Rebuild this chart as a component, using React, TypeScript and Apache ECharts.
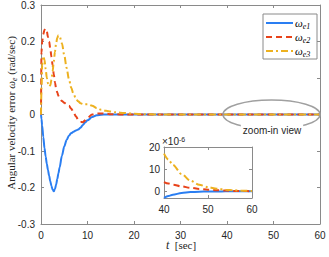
import React, { useEffect, useRef } from "react";
import * as echarts from "echarts";

const tMain = [0, 0.1, 0.25, 0.5, 0.75, 1, 1.25, 1.5, 1.75, 2, 2.25, 2.5, 2.75, 3, 3.25, 3.5, 3.75, 4, 4.5, 5, 5.5, 6, 6.5, 7, 7.5, 8, 8.5, 9, 9.5, 10, 11, 12, 13, 14, 15, 16, 18, 20, 22, 25, 30, 40, 50, 60];
const e1Main = [0, -0.012, -0.03, -0.062, -0.092, -0.115, -0.135, -0.152, -0.168, -0.183, -0.196, -0.206, -0.21, -0.205, -0.192, -0.177, -0.161, -0.145, -0.113, -0.088, -0.07, -0.058, -0.051, -0.047, -0.044, -0.041, -0.036, -0.029, -0.022, -0.016, -0.007, -0.002, -0.0005, 0, 0, 0, 0, 0, 0, 0, 0, 0, 0, 0];
const e2Main = [0, 0.17, 0.2, 0.22, 0.232, 0.235, 0.228, 0.212, 0.2, 0.18, 0.158, 0.135, 0.11, 0.088, 0.072, 0.06, 0.051, 0.045, 0.037, 0.032, 0.028, 0.024, 0.016, 0.006, -0.005, -0.014, -0.02, -0.021, -0.016, -0.009, 0, 0.003, 0.003, 0.002, 0.001, 0.0005, 0, 0, 0, 0, 0, 0, 0, 0];
const e3Main = [0, 0.07, 0.135, 0.16, 0.15, 0.125, 0.1, 0.085, 0.077, 0.08, 0.095, 0.118, 0.145, 0.172, 0.195, 0.21, 0.217, 0.214, 0.195, 0.163, 0.128, 0.097, 0.073, 0.056, 0.044, 0.036, 0.031, 0.029, 0.028, 0.028, 0.024, 0.018, 0.013, 0.01, 0.008, 0.006, 0.004, 0.002, 0.001, 0, 0, 0, 0, 0];

const tInset = [40, 41, 42, 44, 46, 48, 50, 52, 54, 56, 58, 60];
const e1Inset = [-2.9, -2.1, -1.5, -0.75, -0.35, -0.15, -0.07, -0.03, -0.01, 0, 0, 0];
const e2Inset = [4.2, 3.5, 3.0, 2.2, 1.6, 1.1, 0.75, 0.5, 0.33, 0.2, 0.12, 0.08];
const e3Inset = [17, 14.3, 12, 7.8, 4.8, 3.0, 1.9, 1.2, 0.75, 0.45, 0.25, 0.15];

const mainXTicks = { min: 0, max: 60, interval: 10 };
const mainYTicks = { min: -0.3, max: 0.3, interval: 0.1 };
const insetXTicks = { min: 40, max: 60, interval: 10 };
const insetYRange = { min: -3, max: 20 };
const insetYTickValues = [0, 10, 20];

const seriesNames = ["e1", "e2", "e3"];
const colors = ["#2a7ef2", "#e8431a", "#edb120"];
const dashes: any[] = ["solid", [6, 4], [7, 3, 2, 3]];

const AXIS = "#8a8a8a";
const LABEL = "#262626";
const SANS = "Liberation Sans";
const SERIF = "Liberation Serif";

function axisBase(showLabel: boolean, margin: number) {
  return {
    type: "value" as const,
    axisLine: { show: true, onZero: false, lineStyle: { color: AXIS, width: 1 } },
    axisTick: { show: true, inside: true, length: 3, lineStyle: { color: AXIS } },
    splitLine: { show: false },
    axisLabel: { show: showLabel, color: LABEL, fontSize: 10, fontFamily: SANS, margin },
  };
}

export default function App() {
  const ref = useRef<HTMLDivElement>(null);
  useEffect(() => {
    if (!ref.current) return;
    const chart = echarts.init(ref.current, undefined, { renderer: "svg" });
    const mains = [e1Main, e2Main, e3Main];
    const insets = [e1Inset, e2Inset, e3Inset];
    const series: any[] = [];
    mains.forEach((arr, i) => {
      series.push({
        type: "line",
        name: seriesNames[i],
        xAxisIndex: 0,
        yAxisIndex: 0,
        data: tMain.map((t, k) => [t, arr[k]]),
        showSymbol: false,
        symbol: "none",
        smooth: 0.3,
        smoothMonotone: "x",
        z: 2 + i,
        lineStyle: { color: colors[i], width: 2, type: dashes[i] },
      });
    });
    insets.forEach((arr, i) => {
      series.push({
        type: "line",
        name: seriesNames[i] + "_inset",
        xAxisIndex: 2,
        yAxisIndex: 2,
        data: tInset.map((t, k) => [t, arr[k]]),
        showSymbol: false,
        symbol: "none",
        smooth: 0.3,
        smoothMonotone: "x",
        z: 8 + i,
        lineStyle: { color: colors[i], width: 2, type: dashes[i] },
      });
    });

    const omegaRich = {
      w: { fontFamily: SERIF, fontStyle: "italic", fontSize: 11, color: LABEL, lineHeight: 14 },
      s: { fontFamily: SERIF, fontStyle: "italic", fontSize: 8, color: LABEL, lineHeight: 8, verticalAlign: "bottom" },
    };

    const legendYs = [23, 37, 51];
    const legendEls: any[] = [
      {
        type: "rect",
        shape: { x: 263, y: 14, width: 54, height: 45 },
        style: { fill: "#fff", stroke: AXIS, lineWidth: 1 },
        z: 20,
      },
    ];
    legendYs.forEach((y, i) => {
      legendEls.push({
        type: "line",
        shape: { x1: 266, y1: y, x2: 293, y2: y },
        style: { stroke: colors[i], lineWidth: 2, lineDash: i === 0 ? null : dashes[i] },
        z: 21,
      });
      legendEls.push({
        type: "text",
        x: 295,
        y: y,
        style: {
          text: "{w|ω}{s|" + seriesNames[i] + "}",
          rich: omegaRich,
          verticalAlign: "middle",
          align: "left",
        },
        z: 21,
      });
    });

    const option: any = {
      animation: false,
      grid: [
        { left: 41, top: 5, width: 279, height: 219, show: false },
        { left: 164, top: 147, width: 88, height: 51, show: true, backgroundColor: "#fff", borderWidth: 0, z: 5 },
      ],
      xAxis: [
        { ...axisBase(true, 6), gridIndex: 0, position: "bottom", ...mainXTicks },
        { ...axisBase(false, 6), gridIndex: 0, position: "top", ...mainXTicks },
        { ...axisBase(true, 6), gridIndex: 1, position: "bottom", ...insetXTicks, z: 6 },
        { ...axisBase(false, 6), gridIndex: 1, position: "top", ...insetXTicks, z: 6 },
      ],
      yAxis: [
        {
          ...axisBase(true, 6),
          gridIndex: 0,
          position: "left",
          ...mainYTicks,
          axisLabel: {
            ...axisBase(true, 6).axisLabel,
            formatter: (v: number) => String(Number(v.toFixed(1))),
          },
        },
        { ...axisBase(false, 6), gridIndex: 0, position: "right", ...mainYTicks },
        {
          ...axisBase(true, 4),
          gridIndex: 1,
          position: "left",
          ...insetYRange,
          axisTick: { show: true, inside: true, length: 3, lineStyle: { color: AXIS }, customValues: insetYTickValues },
          axisLabel: { show: true, color: LABEL, fontSize: 10, fontFamily: SANS, margin: 4, customValues: insetYTickValues },
          z: 6,
        },
        {
          ...axisBase(false, 4),
          gridIndex: 1,
          position: "right",
          ...insetYRange,
          axisTick: { show: true, inside: true, length: 3, lineStyle: { color: AXIS }, customValues: insetYTickValues },
          z: 6,
        },
      ],
      series,
      graphic: [
        {
          type: "text",
          x: 11,
          y: 113,
          rotation: Math.PI / 2,
          style: {
            text: "Angular velocity error {w|ω}{s|e} (rad/sec)",
            font: "11px " + SERIF,
            fill: LABEL,
            rich: {
              w: { fontFamily: SERIF, fontStyle: "italic", fontSize: 11, color: LABEL, lineHeight: 14 },
              s: { fontFamily: SERIF, fontStyle: "italic", fontSize: 8, color: LABEL, lineHeight: 8, verticalAlign: "bottom" },
            },
            align: "center",
            verticalAlign: "middle",
          },
        },
        {
          type: "text",
          x: 181,
          y: 245,
          style: {
            text: "{i|t}  [sec]",
            font: "11px " + SERIF,
            fill: LABEL,
            rich: { i: { fontFamily: SERIF, fontStyle: "italic", fontSize: 12, color: LABEL } },
            align: "center",
            verticalAlign: "middle",
          },
        },
        {
          type: "text",
          x: 162,
          y: 141,
          style: {
            text: "×10{p|-6}",
            font: "10px " + SANS,
            fill: LABEL,
            rich: { p: { fontFamily: SANS, fontSize: 7, color: LABEL, verticalAlign: "top", lineHeight: 8 } },
            align: "left",
            verticalAlign: "middle",
          },
          z: 10,
        },
        {
          type: "ellipse",
          shape: { cx: 271.5, cy: 114.5, rx: 48.5, ry: 14.5 },
          style: { fill: "none", stroke: "#a0a0a0", lineWidth: 1.5 },
          z: 10,
        },
        {
          type: "text",
          x: 272,
          y: 130,
          style: {
            text: "zoom-in view",
            font: "10px " + SANS,
            fill: LABEL,
            align: "center",
            verticalAlign: "middle",
            backgroundColor: "#fff",
            padding: [1, 2],
          },
          z: 11,
        },
        ...legendEls,
      ],
    };
    chart.setOption(option);
    return () => chart.dispose();
  }, []);
  return <div ref={ref} style={{ position: "fixed", left: 0, top: 0, width: 329, height: 257, background: "#fff" }} />;
}
